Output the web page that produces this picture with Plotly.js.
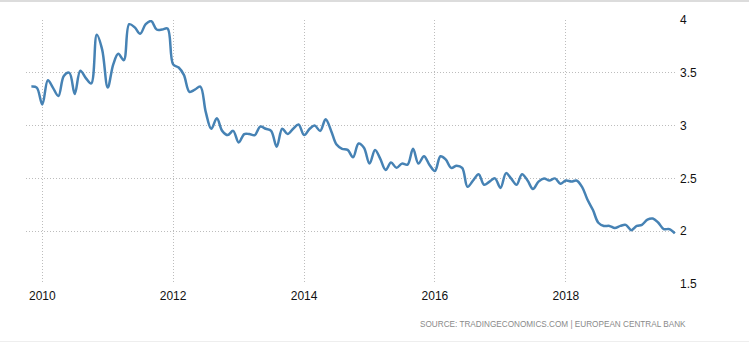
<!DOCTYPE html>
<html>
<head>
<meta charset="utf-8">
<script src="https://cdn.plot.ly/plotly-3.0.1.min.js"></script>
<style>
  html, body { margin: 0; padding: 0; background: #fff; }
  #wrap { position: relative; width: 749px; height: 342px; overflow: hidden; }
  #chart { width: 749px; height: 342px; }
  #topline { position: absolute; left: 0; top: 0; width: 749px; height: 2px; background: #dcdcdc; }
  #botline { position: absolute; left: 0; top: 341px; width: 749px; height: 1px; background: #eeeeee; }
</style>
</head>
<body>
<div id="wrap">
  <div id="chart"></div>
  <div id="topline"></div>
  <div id="botline"></div>
</div>
<script>
// Monthly observations (Nov 2009 - Sep 2019)
const months = [
  "2009-11","2009-12",
  "2010-01","2010-02","2010-03","2010-04","2010-05","2010-06","2010-07","2010-08","2010-09","2010-10","2010-11","2010-12",
  "2011-01","2011-02","2011-03","2011-04","2011-05","2011-06","2011-07","2011-08","2011-09","2011-10","2011-11","2011-12",
  "2012-01","2012-02","2012-03","2012-04","2012-05","2012-06","2012-07","2012-08","2012-09","2012-10","2012-11","2012-12",
  "2013-01","2013-02","2013-03","2013-04","2013-05","2013-06","2013-07","2013-08","2013-09","2013-10","2013-11","2013-12",
  "2014-01","2014-02","2014-03","2014-04","2014-05","2014-06","2014-07","2014-08","2014-09","2014-10","2014-11","2014-12",
  "2015-01","2015-02","2015-03","2015-04","2015-05","2015-06","2015-07","2015-08","2015-09","2015-10","2015-11","2015-12",
  "2016-01","2016-02","2016-03","2016-04","2016-05","2016-06","2016-07","2016-08","2016-09","2016-10","2016-11","2016-12",
  "2017-01","2017-02","2017-03","2017-04","2017-05","2017-06","2017-07","2017-08","2017-09","2017-10","2017-11","2017-12",
  "2018-01","2018-02","2018-03","2018-04","2018-05","2018-06","2018-07","2018-08","2018-09","2018-10","2018-11","2018-12",
  "2019-01","2019-02","2019-03","2019-04","2019-05","2019-06","2019-07","2019-08","2019-09"
];
const values = [
  3.37, 3.36,
  3.20, 3.43, 3.36, 3.28, 3.47, 3.50, 3.30, 3.52, 3.45, 3.40, 3.86, 3.72,
  3.36, 3.58, 3.68, 3.62, 3.96, 3.93, 3.87, 3.96, 3.99, 3.91, 3.91, 3.92,
  3.58, 3.55, 3.48, 3.32, 3.34, 3.37, 3.13, 2.97, 3.07, 2.95, 2.91, 2.95,
  2.84, 2.92, 2.92, 2.91, 2.99, 2.97, 2.95, 2.80, 2.97, 2.92, 2.97, 3.01,
  2.91, 2.97, 3.00, 2.95, 3.06, 2.95, 2.82, 2.78, 2.77, 2.70, 2.83, 2.79,
  2.64, 2.77, 2.69, 2.58, 2.65, 2.60, 2.64, 2.63, 2.78, 2.64, 2.71, 2.63,
  2.57, 2.71, 2.68, 2.60, 2.62, 2.60, 2.42, 2.48, 2.54, 2.44, 2.47, 2.50,
  2.41, 2.55, 2.50, 2.44, 2.54, 2.48, 2.40, 2.47, 2.50, 2.48, 2.50, 2.45,
  2.48, 2.47, 2.48, 2.42, 2.30, 2.20, 2.08, 2.05, 2.05, 2.03, 2.05, 2.06,
  2.01, 2.05, 2.06, 2.11, 2.12, 2.08, 2.02, 2.02, 1.98
];
const yTicks = [1.5, 2, 2.5, 3, 3.5, 4];
const yTickText = ["1.5", "2", "2.5", "3", "3.5", "4"];
const sourceText = "SOURCE: TRADINGECONOMICS.COM | EUROPEAN CENTRAL BANK";

const dates = months.map(m => m + "-01");

const trace = {
  x: dates,
  y: values,
  type: "scatter",
  mode: "lines",
  line: { color: "#4682b4", width: 2.5, shape: "spline", smoothing: 1 },
  cliponaxis: false,
  hoverinfo: "x+y"
};

const gridDash = "1px,2px";

const layout = {
  width: 749,
  height: 342,
  margin: { l: 26, r: 72, t: 20, b: 58 },
  paper_bgcolor: "#ffffff",
  plot_bgcolor: "#ffffff",
  showlegend: false,
  font: { family: "Liberation Sans, Arial, sans-serif", size: 12, color: "#111" },
  xaxis: {
    type: "date",
    range: ["2009-10-02", "2019-09-13"],
    tick0: "2010-01-01",
    dtick: "M24",
    tickformat: "%Y",
    showgrid: true,
    gridcolor: "#bdbdbd",
    griddash: gridDash,
    gridwidth: 1,
    zeroline: false,
    showline: false,
    ticks: "",
    ticklabelstandoff: 3,
    tickfont: { family: "Liberation Sans, Arial, sans-serif", size: 12, color: "#111" },
    fixedrange: true
  },
  yaxis: {
    side: "right",
    range: [1.5, 4],
    tickvals: yTicks,
    ticktext: yTickText,
    showgrid: true,
    gridcolor: "#bdbdbd",
    griddash: gridDash,
    gridwidth: 1,
    zeroline: false,
    showline: false,
    ticks: "",
    ticklabelstandoff: 2,
    tickfont: { family: "Liberation Sans, Arial, sans-serif", size: 12, color: "#111" },
    fixedrange: true
  },
  annotations: [{
    text: sourceText,
    xref: "paper", yref: "paper",
    x: 1.017, y: -0.155,
    xanchor: "right", yanchor: "middle",
    showarrow: false,
    font: { family: "Liberation Sans, Arial, sans-serif", size: 8.2, color: "#8a8a8a" }
  }]
};

Plotly.newPlot("chart", [trace], layout, { displayModeBar: false, staticPlot: true });
</script>
</body>
</html>
